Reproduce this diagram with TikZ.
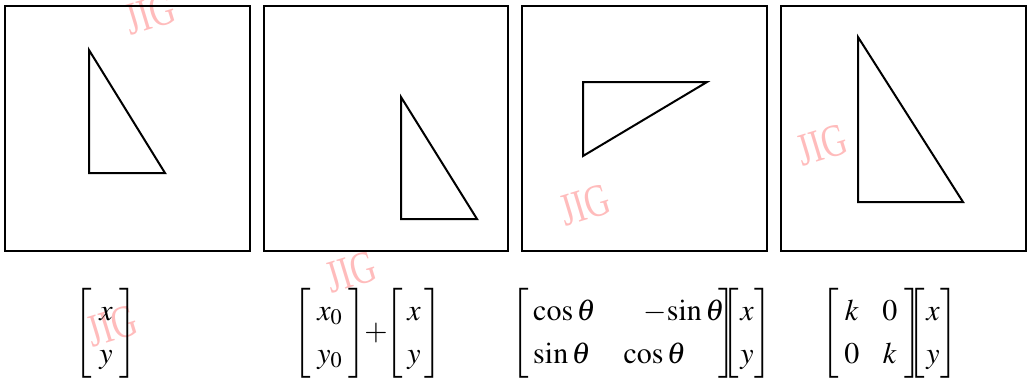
\documentclass[tikz,border=0pt]{standalone}
\usepackage{amsmath}
\usepackage{mathptmx}
\usepackage{fontspec}
\setmainfont{Liberation Serif}
% #1 = left padding, #2 = right padding, #3 = column spec, #4 = entries
\newcommand{\mybmat}[4]{{\left[\begin{array}{@{\hspace{#1}}#3@{\hspace{#2}}}#4\end{array}\right]}}
\newcommand{\mattight}{\hspace{-7pt}}
\begin{document}
\begin{tikzpicture}[x=0.5pt,y=-0.5pt,
  frame/.style={draw=black,line width=1pt},
  tri/.style={draw=black,line width=1pt,line join=miter},
  formula/.style={inner sep=0pt,font=\fontsize{15}{18}\selectfont},
  wm/.style={text={rgb,255:red,255;green,188;blue,188},font=\fontsize{23}{23}\selectfont,rotate=17,xscale=0.75,inner sep=0pt}]
\useasboundingbox (0,0) rectangle (1028,377);
\fill[white] (0,0) rectangle (1028,377);
% watermarks
\node[wm] (w1) at (150,14) {JIG};
\node[wm] (w2) at (585,205) {JIG};
\node[wm] (w3) at (822,145) {JIG};
\node[wm] (w4) at (351,272) {JIG};
\node[wm] (w5) at (112,326) {JIG};
% frames
\draw[frame] (5,6) rectangle (250,251);
\draw[frame] (264,6) rectangle (508,251);
\draw[frame] (522,6) rectangle (767,251);
\draw[frame] (781,6) rectangle (1026,251);
% triangles
\draw[tri] (89,50) -- (89,173) -- (165,173) -- cycle;
\draw[tri] (401,97) -- (401,219) -- (477,219) -- cycle;
\draw[tri] (583,82) -- (707,82) -- (583,156) -- cycle;
\draw[tri] (858,37) -- (858,202) -- (963,202) -- cycle;
% formulas
\renewcommand{\arraystretch}{1.2}
\node[formula] (m1) at (106,333) {$\mybmat{3.5pt}{3.5pt}{c}{x\\ y}$};
\node[formula] (m2) at (368,333) {$\mybmat{3pt}{3pt}{c}{x_0\\ y_0}\hspace{-3pt}+\hspace{-3pt}\mybmat{2pt}{2pt}{c}{x\\ y}$};
\node[formula] (m3) at (642,333) {$\mybmat{2pt}{-3pt}{l@{\hspace{24pt}}l}{\cos\theta & -\!\sin\theta\\ \sin\theta & \hspace{-10pt}\cos\theta}\mattight\mybmat{0.5pt}{0.5pt}{c}{x\\ y}$};
\node[formula] (m4) at (890,333) {$\mybmat{2.5pt}{3.5pt}{c@{\hspace{11.5pt}}c}{k & 0\\ 0 & k}\mattight\mybmat{0.5pt}{0.5pt}{c}{x\\ y}$};
\end{tikzpicture}
\end{document}
